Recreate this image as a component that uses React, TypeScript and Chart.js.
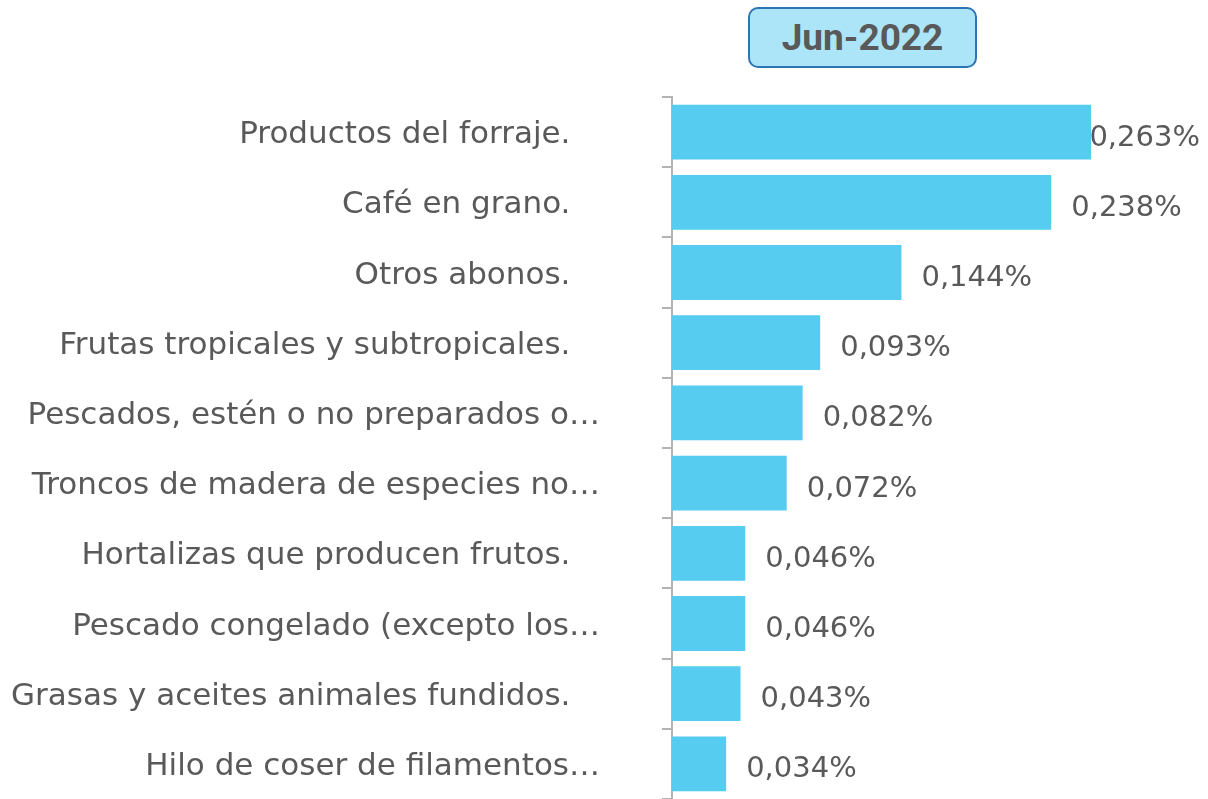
import React, { useEffect, useRef } from "react";
import { Chart, registerables } from "chart.js";

Chart.register(...registerables);

const categories: string[] = [
  "Productos del forraje.",
  "Café en grano.",
  "Otros abonos.",
  "Frutas tropicales y subtropicales.",
  "Pescados, estén o no preparados o…",
  "Troncos de madera de especies no…",
  "Hortalizas que producen frutos.",
  "Pescado congelado (excepto los…",
  "Grasas y aceites animales fundidos.",
  "Hilo de coser de filamentos…",
];

const values: number[] = [0.263, 0.238, 0.144, 0.093, 0.082, 0.072, 0.046, 0.046, 0.043, 0.034];

const title = "Jun-2022";

const TEXT = "#595959";
const FONT = "'DejaVu Sans', sans-serif";

const valueLabels = {
  id: "valueLabels",
  afterDatasetsDraw(chart: any) {
    const ctx = chart.ctx;
    const meta = chart.getDatasetMeta(0);
    ctx.save();
    ctx.font = `29px ${FONT}`;
    ctx.fillStyle = TEXT;
    ctx.textBaseline = "middle";
    ctx.textAlign = "left";
    meta.data.forEach((bar: any, i: number) => {
      const txt = values[i].toFixed(3).replace(".", ",") + "%";
      const w = ctx.measureText(txt).width;
      let x = bar.x + 20;
      if (x + w > chart.width - 8) x = chart.width - 8 - w;
      ctx.fillText(txt, x, bar.y + 6);
    });
    ctx.restore();
  },
};

export default function App() {
  const ref = useRef<HTMLCanvasElement>(null);
  useEffect(() => {
    if (!ref.current) return;
    const chart = new Chart(ref.current, {
      type: "bar",
      data: {
        labels: categories,
        datasets: [
          {
            data: values,
            backgroundColor: "#56CCF0",
            borderWidth: 0,
            categoryPercentage: 1,
            barPercentage: 0.78,
          },
        ],
      },
      options: {
        indexAxis: "y",
        animation: false,
        responsive: false,
        maintainAspectRatio: false,
        layout: { padding: { top: 97, right: 58, bottom: 0, left: 0 } },
        plugins: { legend: { display: false }, tooltip: { enabled: false }, title: { display: false } },
        scales: {
          x: { display: false, min: 0, max: 0.3 },
          y: {
            afterFit: (s: any) => {
              s.width = 672;
              s.paddingTop = 0;
              s.paddingBottom = 0;
            },
            grid: {
              offset: true,
              drawOnChartArea: false,
              drawTicks: true,
              tickLength: 10,
              color: "#B3B3B3",
              lineWidth: 2,
            },
            border: { display: true, color: "#B3B3B3", width: 2 },
            ticks: {
              padding: 62,
              labelOffset: 3,
              color: TEXT,
              font: { family: FONT, size: 31 },
              callback: (_v: any, i: number) => {
                const l = categories[i];
                return l.endsWith("…") ? l : l + "   ";
              },
            },
          },
        },
      },
      plugins: [valueLabels],
    });
    return () => chart.destroy();
  }, []);

  return (
    <div style={{ position: "fixed", left: 0, top: 0, width: 1208, height: 799, background: "#fff" }}>
      <canvas ref={ref} width={1208} height={799} style={{ position: "absolute", left: 0, top: 0, width: 1208, height: 799 }} />
      <div
        style={{
          position: "absolute",
          left: 748,
          top: 7,
          width: 229,
          height: 61,
          boxSizing: "border-box",
          border: "2.5px solid #2E75B6",
          borderRadius: 10,
          background: "#ACE5F7",
          color: TEXT,
          fontFamily: "Roboto, 'Liberation Sans', sans-serif",
          fontWeight: 700,
          fontSize: 37,
          display: "flex",
          alignItems: "center",
          justifyContent: "center",
        }}
      >
        {title}
      </div>
    </div>
  );
}
